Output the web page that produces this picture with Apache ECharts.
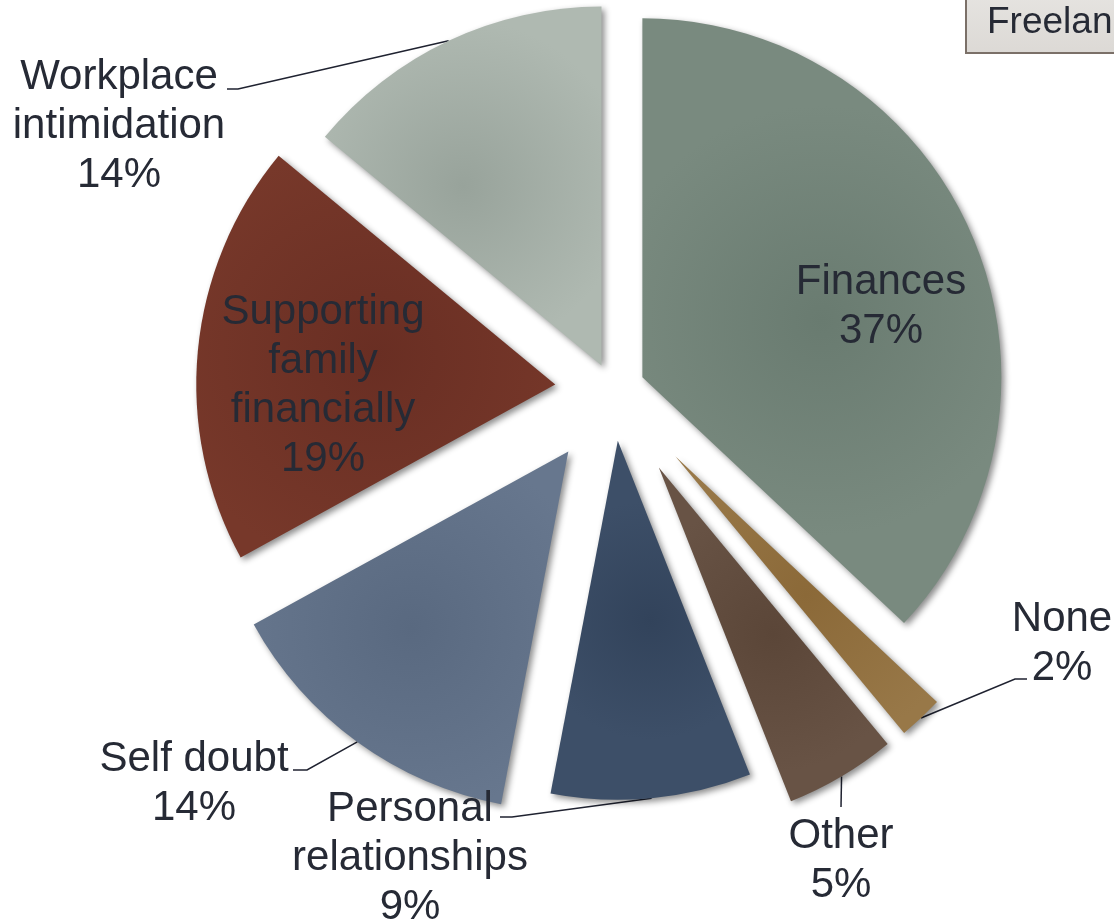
<!DOCTYPE html>
<html>
<head>
<meta charset="utf-8">
<title>Freelancers</title>
<script src="https://cdn.jsdelivr.net/npm/echarts@6/dist/echarts.min.js"></script>
<style>
  html, body { margin: 0; padding: 0; background: #fff; }
  #main { width: 1114px; height: 923px; }
</style>
</head>
<body>
<div id="main"></div>
<script>
// slices, clockwise from 12 o'clock
var categories = ['Finances', 'None', 'Other', 'Personal relationships', 'Self doubt', 'Supporting family financially', 'Workplace intimidation'];
var shares = [37, 2, 5, 9, 14, 19, 14];

var pieCenter = [613, 390];
var pieRadius = 359;
// how far each slice is pulled away from the centre (px)
var explode = [32, 91, 90, 51, 76, 58, 27];
var innerColors = ['#697b70', '#8b6938', '#5b4638', '#32435b', '#596980', '#692e23', '#98a39b'];
var outerColors = ['#798a7f', '#987848', '#685345', '#3d4f68', '#67778e', '#77382a', '#afb9b1'];
// label block: centre x, top y; leader bend/end for the outside ones
var labelSpots = [
  { x: 881, y: 258, inside: true },
  { x: 1062, y: 595, bend: [1015, 679], end: [1027, 679] },
  { x: 841, y: 812, bend: [841, 807], end: [841, 807] },
  { x: 410, y: 785, bend: [512, 817], end: [500, 817] },
  { x: 194, y: 735, bend: [307, 770], end: [293, 770] },
  { x: 323, y: 288, inside: true },
  { x: 119, y: 53, bend: [238, 89], end: [227, 89] }
];

var font = '"Liberation Sans", Arial, sans-serif';
var fontSize = 42;
var wrapWidth = 245;
var textColor = '#262a35';

var total = shares.reduce(function (a, b) { return a + b; }, 0);

// word wrap a category name the way the original label boxes do
var measureCtx = document.createElement('canvas').getContext('2d');
measureCtx.font = fontSize + 'px ' + font;
function wrapName(name) {
  var words = name.split(' ');
  var lines = [];
  var cur = '';
  words.forEach(function (w) {
    var test = cur ? cur + ' ' + w : w;
    if (cur && measureCtx.measureText(test).width > wrapWidth) {
      lines.push(cur);
      cur = w;
    } else {
      cur = test;
    }
  });
  if (cur) lines.push(cur);
  return lines;
}

function buildSeries(i) {
  var before = 0;
  for (var k = 0; k < i; k++) before += shares[k];
  var mid = (before + shares[i] / 2) / total * Math.PI * 2;
  var center = [
    pieCenter[0] + explode[i] * Math.sin(mid),
    pieCenter[1] - explode[i] * Math.cos(mid)
  ];
  var spot = labelSpots[i];

  return {
    type: 'pie',
    center: center,
    radius: pieRadius,
    startAngle: 90,
    clockwise: true,
    avoidLabelOverlap: false,
    silent: true,
    animation: false,
    emphasis: { disabled: true },
    itemStyle: {
      borderWidth: 0,
      color: {
        type: 'radial', x: 0.5, y: 0.5, r: 0.6,
        colorStops: [
          { offset: 0, color: innerColors[i] },
          { offset: 1, color: outerColors[i] }
        ]
      },
      shadowBlur: 6,
      shadowOffsetX: 3,
      shadowOffsetY: 3,
      shadowColor: 'rgba(0,0,0,0.45)'
    },
    label: {
      show: true,
      position: spot.inside ? 'inside' : 'outside',
      formatter: function (p) {
        return wrapName(p.name).concat([p.value + '%']).map(function (l) {
          return '{t|' + l + '}';
        }).join('\n');
      },
      rich: {
        t: {
          fontSize: fontSize,
          lineHeight: 49,
          fontFamily: font,
          color: textColor,
          align: 'center'
        }
      }
    },
    labelLine: {
      show: !spot.inside,
      length: 10,
      length2: 10,
      lineStyle: { color: '#1f2230', width: 1.5 }
    },
    labelLayout: function (params) {
      var out = { x: spot.x, y: spot.y, align: 'center', verticalAlign: 'top' };
      if (!spot.inside && params.labelLinePoints) {
        out.labelLinePoints = [params.labelLinePoints[0], spot.bend, spot.end];
      }
      return out;
    },
    data: categories.map(function (name, j) {
      var item = { name: name, value: shares[j] };
      if (j !== i) {
        item.itemStyle = { color: 'rgba(0,0,0,0)', shadowBlur: 0, shadowOffsetX: 0, shadowOffsetY: 0, shadowColor: 'rgba(0,0,0,0)' };
        item.label = { show: false };
        item.labelLine = { show: false };
      }
      return item;
    })
  };
}

var chart = echarts.init(document.getElementById('main'));
chart.setOption({
  backgroundColor: '#ffffff',
  title: {
    text: 'Freelancers',
    left: 966,
    top: -8,
    padding: [11, 60, 10, 21],
    backgroundColor: {
      type: 'linear', x: 0, y: 0, x2: 0, y2: 1,
      colorStops: [
        { offset: 0, color: '#e6e4e1' },
        { offset: 1, color: '#dcd9d5' }
      ]
    },
    borderColor: '#7b7068',
    borderWidth: 2,
    textStyle: {
      fontSize: 37,
      lineHeight: 40,
      fontWeight: 'normal',
      fontFamily: font,
      color: textColor
    }
  },
  series: categories.map(function (c, i) { return buildSeries(i); })
});
</script>
</body>
</html>
